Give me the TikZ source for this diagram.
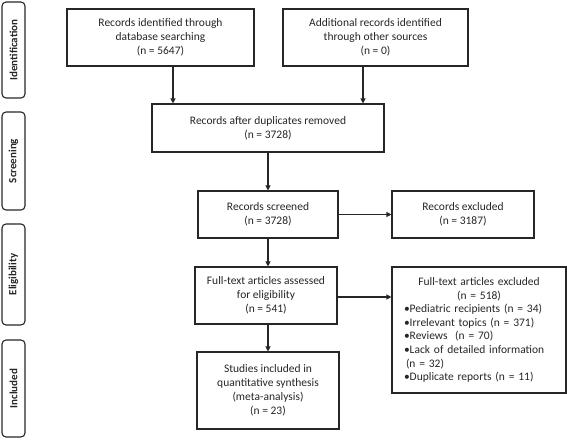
\documentclass[tikz,border=0pt]{standalone}
\usepackage{fontspec}
\setmainfont{Carlito}
\usetikzlibrary{arrows.meta}
\begin{document}
\begin{tikzpicture}[x=1pt,y=-1pt,
  box/.style={draw=black!85,line width=1.1pt,align=center,inner sep=0pt,
    font=\fontsize{11.5}{14}\selectfont,text=black!85},
  phase/.style={draw=black!85,line width=1.1pt,rounded corners=4pt,inner sep=0pt,
    minimum height=23pt,rotate=90,font=\bfseries\fontsize{11}{13}\selectfont,text=black!85},
  arr/.style={draw=black!85,line width=1.1pt,-{Triangle[length=5pt,width=5pt]}}]
\path[use as bounding box] (0,0) rectangle (567,439);
% phase labels
\node[phase,minimum width=96pt] (p1) at (13.5,50) {Identification};
\node[phase,minimum width=98pt] (p2) at (13.5,161) {Screening};
\node[phase,minimum width=101pt] (p3) at (13.5,274.5) {Eligibility};
\node[phase,minimum width=97pt] (p4) at (13.5,388.5) {Included};
% boxes
\node[box,minimum width=187pt,minimum height=57pt] (a) at (160.5,37.5)
  {Records identified through\\database searching\\(n = 5647)};
\node[box,minimum width=185pt,minimum height=57pt] (b) at (375.5,37.5)
  {Additional records identified\\through other sources\\(n = 0)};
\node[box,minimum width=232pt,minimum height=48pt] (c) at (268,128)
  {Records after duplicates removed\\(n = 3728)};
\node[box,minimum width=140pt,minimum height=47pt] (d) at (268,214.5)
  {Records screened\\(n = 3728)};
\node[box,minimum width=142pt,minimum height=47pt] (e) at (463,214.5)
  {Records excluded\\(n = 3187)};
\node[box,minimum width=142pt,minimum height=57pt] (f) at (266,295.5)
  {Full-text articles assessed\\for eligibility\\(n = 541)};
\node[box,minimum width=174pt,minimum height=126pt,text width=150pt,align=left,
  font=\fontsize{11.5}{13.6}\selectfont] (g) at (479,330)
  {{\centering Full-text articles excluded\\(n = 518)\par}%
   \raggedright
   •Pediatric recipients (n = 34)\\
   •Irrelevant topics (n = 371)\\
   •Reviews~ (n = 70)\\
   •Lack of detailed information\\
   \hspace*{2pt}(n = 32)\\
   •Duplicate reports (n = 11)};
\node[box,minimum width=142pt,minimum height=77pt] (h) at (268,390.5)
  {Studies included in\\quantitative synthesis\\(meta-analysis)\\(n = 23)};
% arrows
\draw[arr] (a.south -| 173,0) -- (c.north -| 173,0);
\draw[arr] (b.south -| 363,0) -- (c.north -| 363,0);
\draw[arr] (c.south) -- (d.north);
\draw[arr] (d.east) -- (e.west);
\draw[arr] (d.south) -- (d.south |- f.north);
\draw[arr] (f.east |- 0,297) -- (g.west |- 0,297);
\draw[arr] (h.north |- f.south) -- (h.north);
\end{tikzpicture}
\end{document}
